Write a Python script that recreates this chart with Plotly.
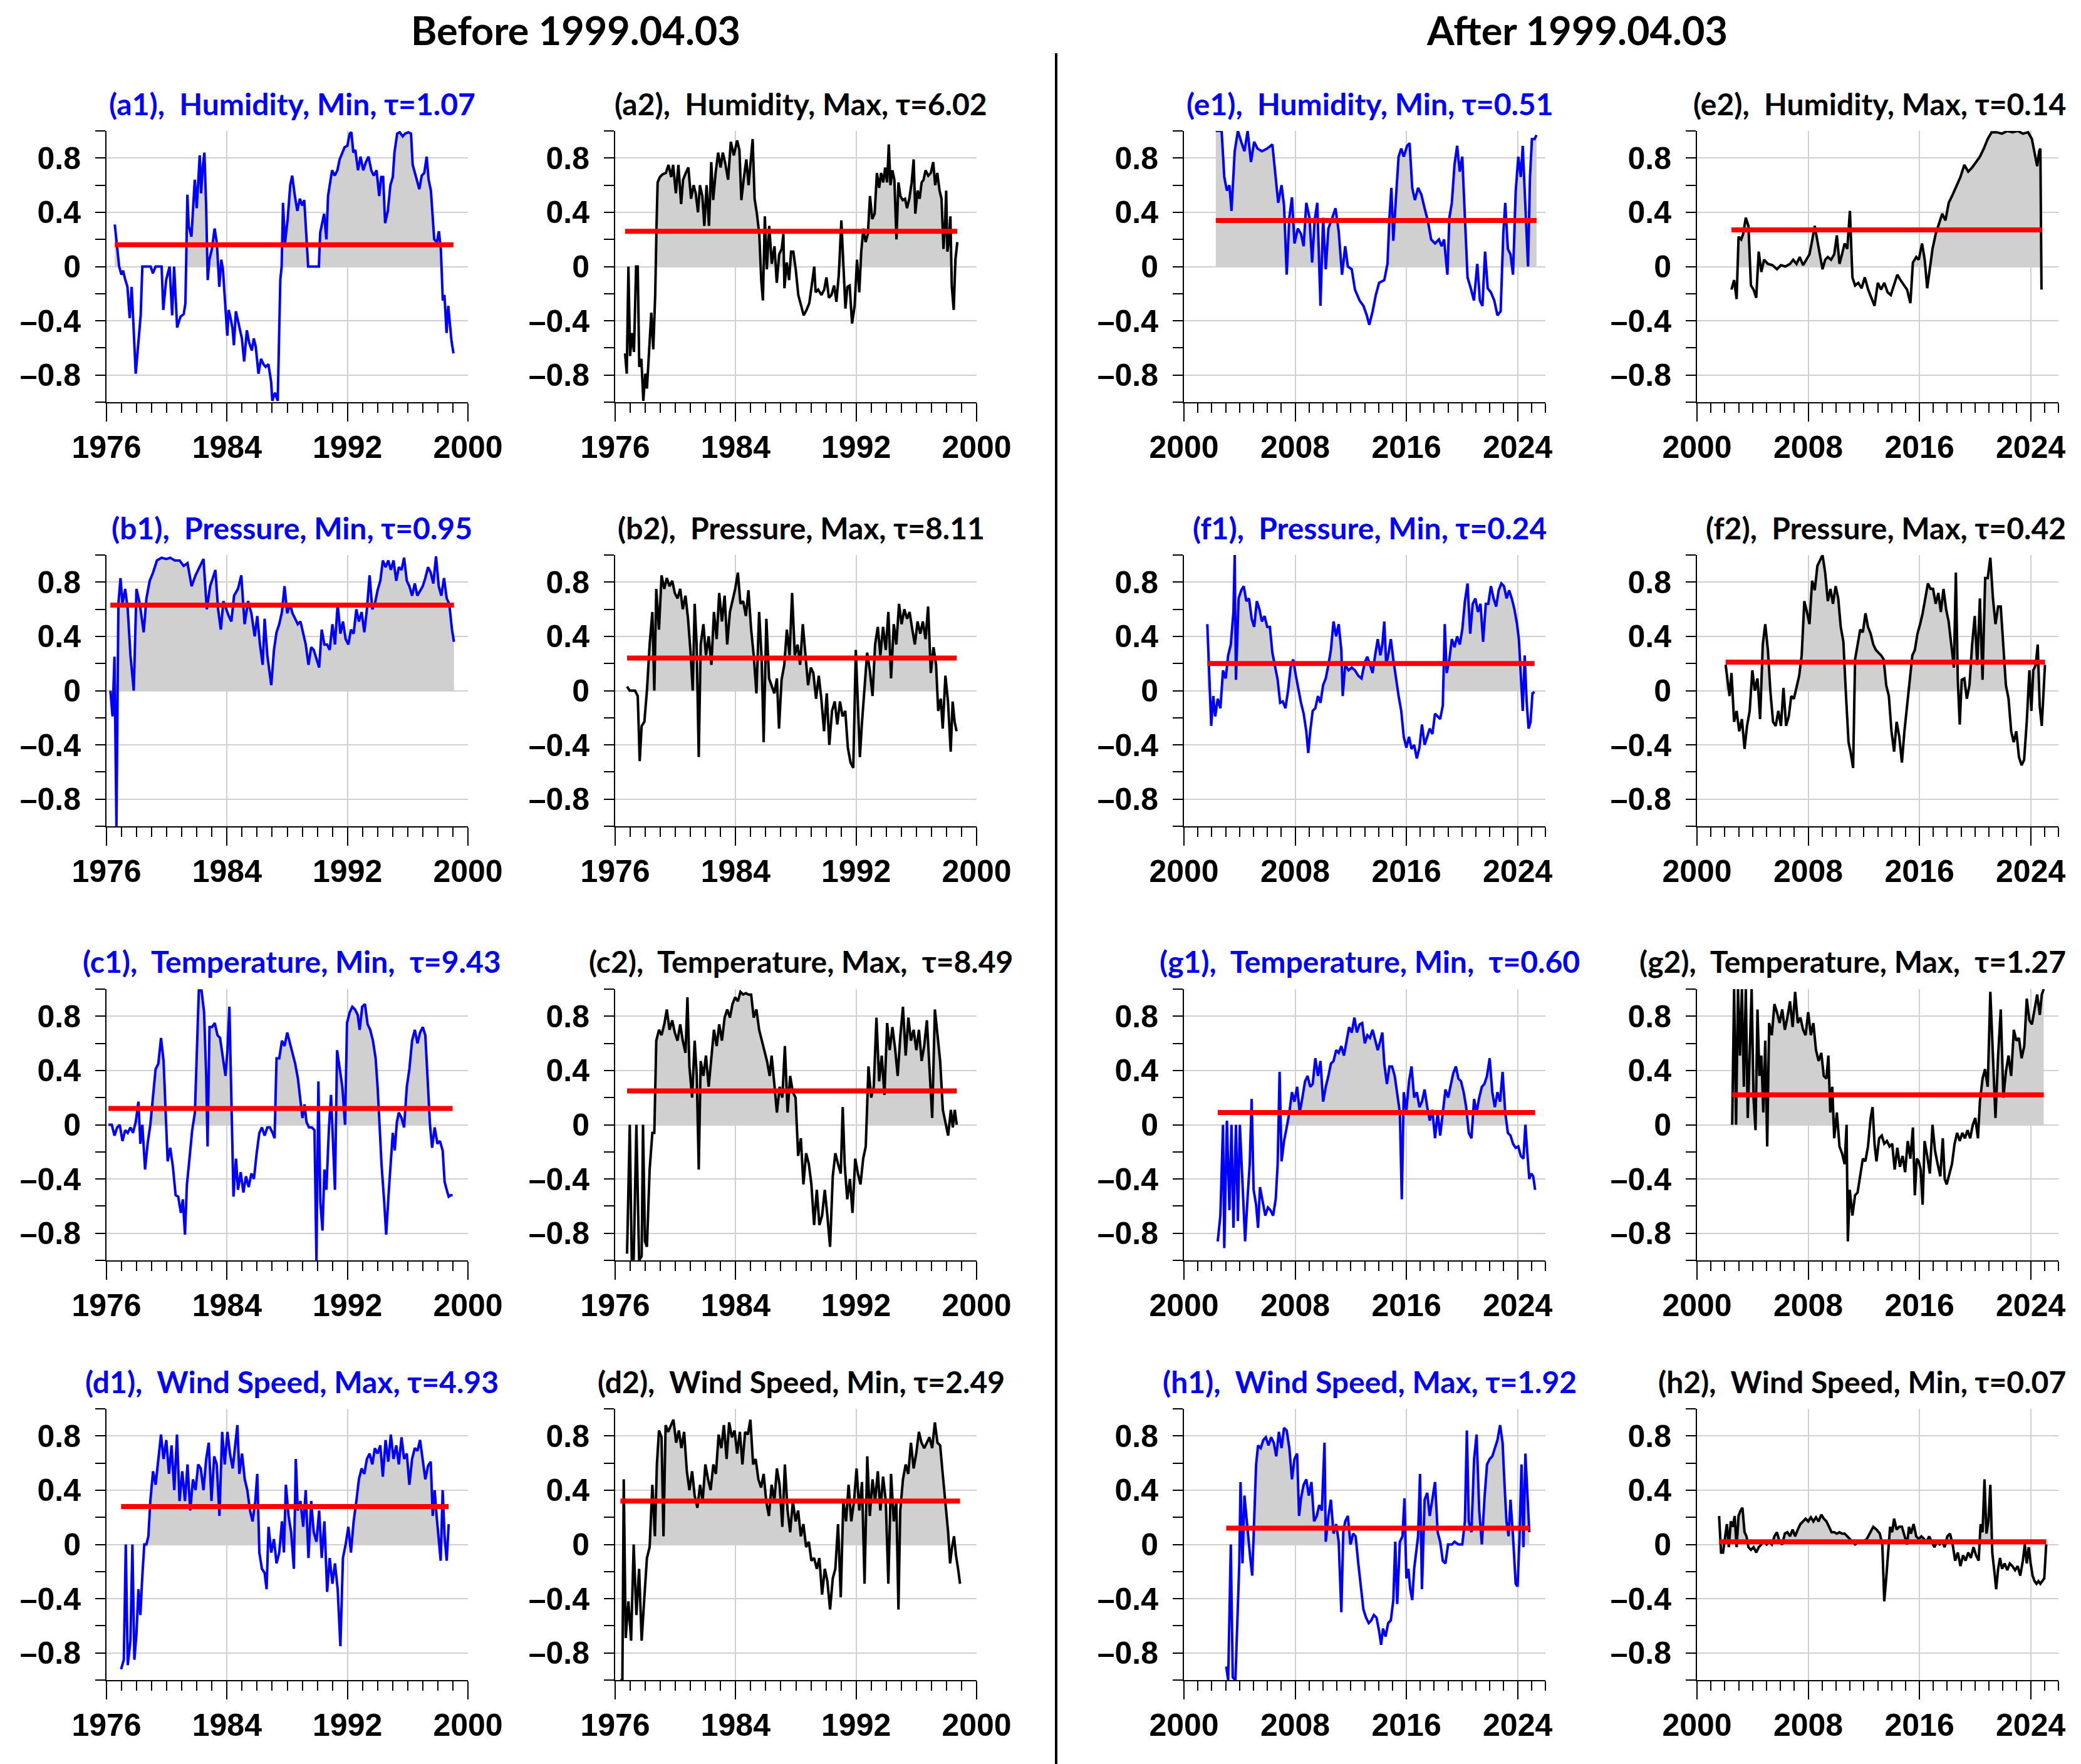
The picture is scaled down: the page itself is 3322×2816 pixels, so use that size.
import numpy as np
import plotly.graph_objects as go
from plotly.subplots import make_subplots

W, H = 3322, 2816

# ---------------- data (year, correlation) ----------------
A1 = [(1976.55,0.31),(1976.66,0.2),(1976.84,0),(1976.99,-0.06),(1977.10,-0.03),(1977.23,-0.09),(1977.39,-0.15),(1977.54,-0.38),(1977.67,-0.15),(1977.76,-0.36),(1977.94,-0.79),(1978.11,-0.57),(1978.27,-0.36),(1978.38,0),(1978.93,0),(1979.08,-0.05),(1979.26,0),(1979.66,0),(1979.77,-0.32),(1979.96,-0.1),(1980.19,0),(1980.36,-0.36),(1980.49,0),(1980.69,-0.45),(1980.91,-0.37),(1981.13,-0.35),(1981.24,-0.27),(1981.37,0.53),(1981.46,0.3),(1981.64,0.22),(1981.86,0.64),(1981.99,0.43),(1982.12,0.69),(1982.19,0.82),(1982.28,0.54),(1982.39,0.73),(1982.50,0.84),(1982.61,0.47),(1982.72,-0.1),(1982.83,0.05),(1983.00,0.13),(1983.18,0.28),(1983.33,0.17),(1983.49,-0.15),(1983.62,0.05),(1983.73,-0.02),(1983.89,-0.29),(1984.02,-0.51),(1984.11,-0.32),(1984.24,-0.38),(1984.37,-0.46),(1984.46,-0.58),(1984.59,-0.33),(1984.77,-0.42),(1984.99,-0.53),(1985.14,-0.7),(1985.32,-0.47),(1985.47,-0.56),(1985.65,-0.62),(1985.78,-0.53),(1985.91,-0.59),(1986.09,-0.79),(1986.26,-0.68),(1986.42,-0.72),(1986.57,-0.74),(1986.75,-0.72),(1986.93,-0.85),(1987.01,-0.99),(1987.19,-0.93),(1987.37,-0.99),(1987.45,-0.47),(1987.54,-0.1),(1987.63,0),(1987.72,0.47),(1987.85,0.17),(1988.03,0.35),(1988.20,0.6),(1988.33,0.67),(1988.51,0.52),(1988.67,0.41),(1988.84,0.5),(1989.00,0.45),(1989.13,0.49),(1989.26,0.2),(1989.39,0),(1989.94,0),(1990.10,0),(1990.19,0.25),(1990.32,0.32),(1990.45,0.39),(1990.60,0.2),(1990.71,0.52),(1990.85,0.62),(1990.98,0.71),(1991.15,0.67),(1991.33,0.71),(1991.48,0.79),(1991.64,0.84),(1991.81,0.88),(1991.99,0.89),(1992.15,0.98),(1992.26,0.99),(1992.39,0.84),(1992.52,0.86),(1992.70,0.71),(1992.87,0.81),(1993.05,0.71),(1993.22,0.77),(1993.40,0.81),(1993.58,0.71),(1993.75,0.67),(1993.93,0.71),(1994.11,0.52),(1994.24,0.66),(1994.37,0.66),(1994.50,0.32),(1994.68,0.41),(1994.85,0.6),(1995.01,0.66),(1995.12,0.84),(1995.30,0.98),(1995.47,0.99),(1995.67,0.96),(1995.82,0.98),(1996.04,0.99),(1996.22,0.98),(1996.33,0.75),(1996.48,0.69),(1996.66,0.62),(1996.77,0.57),(1996.93,0.67),(1997.10,0.69),(1997.26,0.81),(1997.39,0.64),(1997.54,0.56),(1997.67,0.35),(1997.76,0.2),(1997.94,0.18),(1998.07,0.26),(1998.20,0.13),(1998.33,-0.25),(1998.44,-0.21),(1998.58,-0.49),(1998.69,-0.29),(1998.80,-0.44),(1998.91,-0.55),(1999.04,-0.64)]

A2 = [(1976.66,-0.64),(1976.77,-0.79),(1976.88,0.0),(1976.99,-0.66),(1977.12,-0.49),(1977.25,-0.63),(1977.39,0),(1977.5,0),(1977.6,-0.74),(1977.74,-0.68),(1977.87,-0.99),(1978.0,-0.79),(1978.11,-0.9),(1978.27,-0.59),(1978.4,-0.34),(1978.53,-0.61),(1978.66,-0.21),(1978.75,0.32),(1978.82,0.62),(1978.97,0.66),(1979.15,0.68),(1979.37,0.69),(1979.54,0.75),(1979.72,0.66),(1979.85,0.75),(1980.03,0.54),(1980.2,0.75),(1980.38,0.46),(1980.51,0.64),(1980.69,0.69),(1980.86,0.73),(1981.04,0.5),(1981.21,0.6),(1981.35,0.54),(1981.5,0.4),(1981.63,0.6),(1981.79,0.52),(1981.92,0.3),(1982.07,0.6),(1982.23,0.3),(1982.38,0.77),(1982.51,0.49),(1982.67,0.69),(1982.84,0.84),(1983.0,0.73),(1983.15,0.84),(1983.33,0.75),(1983.5,0.64),(1983.68,0.92),(1983.88,0.82),(1984.1,0.93),(1984.25,0.86),(1984.38,0.49),(1984.53,0.64),(1984.71,0.79),(1984.86,0.6),(1985.02,0.79),(1985.13,0.94),(1985.26,0.5),(1985.41,0.39),(1985.57,0.24),(1985.7,-0.1),(1985.81,-0.25),(1985.94,0.37),(1986.07,-0.02),(1986.23,0.3),(1986.4,0.02),(1986.58,0.15),(1986.73,-0.12),(1986.89,0.09),(1987.06,0.13),(1987.17,0.24),(1987.24,-0.16),(1987.39,0.03),(1987.55,-0.1),(1987.68,0.11),(1987.83,0.11),(1987.99,-0.02),(1988.16,-0.21),(1988.34,-0.29),(1988.52,-0.36),(1988.71,-0.32),(1988.89,-0.27),(1989.04,-0.15),(1989.22,0.0),(1989.31,-0.19),(1989.48,-0.17),(1989.7,-0.21),(1989.88,-0.17),(1990.03,-0.08),(1990.19,-0.23),(1990.36,-0.21),(1990.54,-0.14),(1990.69,-0.26),(1990.85,-0.06),(1990.94,0.15),(1991.02,0.34),(1991.16,0.0),(1991.29,-0.31),(1991.42,-0.15),(1991.57,-0.14),(1991.73,-0.42),(1991.9,-0.29),(1992.06,0.05),(1992.21,-0.19),(1992.34,0.11),(1992.48,0.28),(1992.63,0.18),(1992.78,0.24),(1992.92,0.52),(1993.07,0.35),(1993.23,0.39),(1993.38,0.69),(1993.53,0.58),(1993.66,0.69),(1993.8,0.62),(1993.93,0.73),(1994.06,0.62),(1994.17,0.9),(1994.28,0.6),(1994.41,0.71),(1994.54,0.64),(1994.68,0.2),(1994.81,0.62),(1994.94,0.52),(1995.09,0.49),(1995.25,0.5),(1995.38,0.43),(1995.53,0.5),(1995.69,0.62),(1995.82,0.79),(1995.93,0.39),(1996.08,0.56),(1996.22,0.5),(1996.35,0.62),(1996.48,0.64),(1996.61,0.71),(1996.79,0.67),(1996.96,0.69),(1997.12,0.77),(1997.25,0.6),(1997.39,0.69),(1997.54,0.56),(1997.67,0.5),(1997.8,0.13),(1997.89,0.28),(1997.98,0.56),(1998.06,0.11),(1998.15,0.18),(1998.26,0.37),(1998.35,-0.14),(1998.48,-0.32),(1998.59,0.05),(1998.72,0.18)]

E1 = [(2002.29,1.0),(2002.71,1.0),(2002.9,0.66),(2003.09,0.56),(2003.27,0.6),(2003.42,0.41),(2003.65,0.85),(2003.88,1.0),(2004.12,0.92),(2004.35,0.85),(2004.58,1.0),(2004.82,0.77),(2005.05,0.92),(2005.29,0.87),(2005.61,0.85),(2005.99,0.87),(2006.36,0.9),(2006.55,0.7),(2006.78,0.47),(2007.02,0.6),(2007.2,0.45),(2007.39,-0.06),(2007.58,0.36),(2007.77,0.51),(2007.95,0.17),(2008.19,0.28),(2008.42,0.24),(2008.61,0.15),(2008.8,0.47),(2009.03,0.36),(2009.22,0.03),(2009.4,0.34),(2009.59,0.47),(2009.82,-0.29),(2010.01,0.36),(2010.2,-0.02),(2010.39,0.28),(2010.67,0.36),(2010.9,0.43),(2011.13,0.26),(2011.37,-0.06),(2011.6,0.15),(2011.79,0.0),(2012.07,-0.02),(2012.3,-0.17),(2012.63,-0.25),(2012.91,-0.29),(2013.15,-0.36),(2013.33,-0.43),(2013.57,-0.33),(2013.8,-0.21),(2014.04,-0.12),(2014.41,-0.1),(2014.64,0.02),(2014.78,0.36),(2014.92,0.58),(2015.06,0.19),(2015.25,0.51),(2015.44,0.81),(2015.63,0.87),(2015.81,0.81),(2016.05,0.89),(2016.23,0.91),(2016.42,0.58),(2016.61,0.49),(2016.84,0.58),(2017.08,0.53),(2017.31,0.43),(2017.54,0.34),(2017.78,0.2),(2018.06,0.17),(2018.34,0.2),(2018.53,0.15),(2018.71,0.2),(2018.95,-0.06),(2019.09,0.36),(2019.27,0.47),(2019.46,0.75),(2019.65,0.89),(2019.84,0.7),(2020.02,0.81),(2020.21,0.36),(2020.4,-0.08),(2020.63,-0.16),(2020.86,-0.25),(2021.1,0.02),(2021.29,-0.25),(2021.47,-0.29),(2021.66,0.11),(2021.85,-0.16),(2022.08,-0.19),(2022.32,-0.25),(2022.55,-0.36),(2022.78,-0.33),(2022.97,0.24),(2023.11,0.47),(2023.3,0.13),(2023.49,0.09),(2023.67,-0.06),(2023.86,0.55),(2024.05,0.81),(2024.23,0.66),(2024.37,0.89),(2024.51,0.56),(2024.65,0.28),(2024.75,0.0),(2024.89,0.66),(2025.03,0.94),(2025.22,0.94),(2025.36,0.97)]

E2 = [(2002.48,-0.17),(2002.67,-0.1),(2002.85,-0.24),(2002.99,0.22),(2003.18,0.2),(2003.32,0.24),(2003.51,0.36),(2003.7,0.3),(2003.88,-0.14),(2004.07,-0.17),(2004.26,-0.23),(2004.44,0.11),(2004.63,-0.04),(2004.82,0.05),(2005.1,0.02),(2005.43,0.01),(2005.75,-0.02),(2006.04,0.01),(2006.36,0.0),(2006.69,0.02),(2006.92,0.05),(2007.16,0.02),(2007.39,0.07),(2007.63,0.01),(2007.86,0.05),(2008.09,0.09),(2008.28,0.19),(2008.47,0.3),(2008.66,0.19),(2008.84,0.09),(2009.03,-0.02),(2009.22,0.05),(2009.41,0.07),(2009.64,0.05),(2009.87,0.09),(2010.06,0.23),(2010.25,0.02),(2010.43,0.09),(2010.62,0.17),(2010.81,0.13),(2011.0,0.41),(2011.18,-0.08),(2011.37,-0.14),(2011.6,-0.12),(2011.84,-0.16),(2012.07,-0.08),(2012.31,-0.17),(2012.54,-0.23),(2012.77,-0.29),(2013.01,-0.12),(2013.24,-0.17),(2013.47,-0.12),(2013.71,-0.19),(2013.94,-0.21),(2014.18,-0.14),(2014.41,-0.06),(2014.64,-0.1),(2014.88,-0.14),(2015.11,-0.17),(2015.35,-0.27),(2015.53,0.03),(2015.77,0.07),(2015.95,0.05),(2016.19,0.17),(2016.38,0.05),(2016.56,-0.16),(2016.75,0.0),(2016.94,0.13),(2017.17,0.24),(2017.4,0.32),(2017.64,0.39),(2017.87,0.34),(2018.11,0.47),(2018.39,0.53),(2018.67,0.6),(2018.95,0.66),(2019.23,0.75),(2019.51,0.7),(2019.79,0.73),(2020.07,0.77),(2020.35,0.81),(2020.63,0.87),(2020.91,0.94),(2021.19,0.99),(2021.57,0.99),(2021.94,0.98),(2022.32,1.0),(2022.69,0.99),(2023.07,1.0),(2023.44,0.98),(2023.82,0.99),(2024.09,0.94),(2024.28,0.83),(2024.47,0.74),(2024.61,0.85),(2024.7,0.87),(2024.78,-0.17)]

B1 = [(1976.26,0.0),(1976.4,-0.19),(1976.53,0.25),(1976.66,-1.0),(1976.79,0.64),(1976.93,0.83),(1977.06,0.64),(1977.24,0.75),(1977.41,0.6),(1977.59,0.26),(1977.81,0.0),(1977.99,0.75),(1978.21,0.64),(1978.47,0.43),(1978.65,0.68),(1978.87,0.81),(1979.09,0.87),(1979.35,0.96),(1979.66,0.98),(1979.97,0.97),(1980.23,0.98),(1980.54,0.96),(1980.85,0.96),(1981.12,0.92),(1981.38,0.94),(1981.65,0.77),(1981.91,0.85),(1982.18,0.91),(1982.44,0.97),(1982.66,0.6),(1982.88,0.77),(1983.06,0.83),(1983.23,0.89),(1983.41,0.6),(1983.59,0.45),(1983.76,0.66),(1983.94,0.6),(1984.12,0.55),(1984.29,0.51),(1984.47,0.7),(1984.73,0.75),(1984.95,0.85),(1985.17,0.49),(1985.4,0.66),(1985.62,0.57),(1985.84,0.4),(1986.01,0.55),(1986.19,0.34),(1986.37,0.19),(1986.5,0.53),(1986.68,0.26),(1986.81,0.13),(1986.94,0.04),(1987.12,0.3),(1987.29,0.43),(1987.47,0.49),(1987.65,0.58),(1987.82,0.77),(1988.0,0.57),(1988.18,0.64),(1988.35,0.57),(1988.53,0.53),(1988.7,0.49),(1988.88,0.51),(1989.06,0.42),(1989.23,0.34),(1989.41,0.19),(1989.59,0.32),(1989.76,0.3),(1989.94,0.23),(1990.12,0.17),(1990.29,0.45),(1990.47,0.34),(1990.65,0.34),(1990.82,0.3),(1991.0,0.49),(1991.17,0.34),(1991.35,0.64),(1991.53,0.42),(1991.7,0.51),(1991.88,0.38),(1992.06,0.34),(1992.23,0.45),(1992.41,0.42),(1992.59,0.6),(1992.76,0.51),(1992.94,0.58),(1993.12,0.43),(1993.29,0.6),(1993.47,0.85),(1993.65,0.6),(1993.82,0.64),(1994.0,0.74),(1994.18,0.81),(1994.35,0.96),(1994.53,0.91),(1994.71,0.96),(1994.88,0.89),(1995.06,0.96),(1995.24,0.81),(1995.41,0.91),(1995.59,0.89),(1995.76,0.98),(1995.94,0.81),(1996.11,0.77),(1996.29,0.7),(1996.47,0.79),(1996.64,0.7),(1996.82,0.74),(1997.0,0.77),(1997.17,0.83),(1997.35,0.91),(1997.53,0.87),(1997.7,0.79),(1997.88,0.99),(1998.06,0.77),(1998.23,0.7),(1998.41,0.83),(1998.59,0.68),(1998.76,0.64),(1998.94,0.45),(1999.07,0.36)]

B2 = [(1976.79,0.03),(1976.97,0.0),(1977.32,0.0),(1977.5,-0.04),(1977.63,-0.52),(1977.76,-0.26),(1977.94,-0.23),(1978.11,0.0),(1978.29,0.34),(1978.47,0.58),(1978.6,0.0),(1978.73,0.75),(1978.91,0.45),(1979.08,0.85),(1979.26,0.75),(1979.43,0.83),(1979.61,0.77),(1979.79,0.81),(1979.96,0.72),(1980.14,0.68),(1980.32,0.75),(1980.49,0.6),(1980.67,0.7),(1980.84,0.53),(1981.02,0.26),(1981.15,0.0),(1981.28,0.64),(1981.41,0.34),(1981.55,-0.49),(1981.68,0.34),(1981.86,0.49),(1982.03,0.26),(1982.21,0.4),(1982.39,0.19),(1982.56,0.58),(1982.74,0.38),(1982.91,0.72),(1983.09,0.51),(1983.27,0.7),(1983.44,0.34),(1983.62,0.58),(1983.79,0.66),(1983.97,0.75),(1984.15,0.87),(1984.32,0.64),(1984.5,0.66),(1984.68,0.55),(1984.85,0.74),(1985.03,0.45),(1985.2,0.26),(1985.38,-0.02),(1985.56,0.58),(1985.73,0.23),(1985.86,-0.38),(1986.04,0.53),(1986.22,0.09),(1986.39,0.04),(1986.57,-0.02),(1986.74,0.09),(1986.88,-0.28),(1987.05,0.08),(1987.23,0.19),(1987.4,0.45),(1987.58,0.26),(1987.75,0.72),(1987.93,0.26),(1988.11,0.34),(1988.28,0.19),(1988.46,0.49),(1988.64,0.26),(1988.81,0.04),(1988.99,0.17),(1989.16,0.13),(1989.34,-0.06),(1989.52,0.11),(1989.69,-0.06),(1989.87,-0.3),(1990.05,-0.02),(1990.22,-0.4),(1990.4,-0.15),(1990.58,-0.08),(1990.75,-0.25),(1990.93,-0.08),(1991.1,-0.19),(1991.28,-0.15),(1991.45,-0.42),(1991.63,-0.53),(1991.81,-0.57),(1991.98,0.3),(1992.12,-0.11),(1992.25,-0.49),(1992.38,-0.25),(1992.56,0.0),(1992.73,0.28),(1992.91,0.15),(1993.09,-0.04),(1993.26,0.34),(1993.44,0.47),(1993.61,0.26),(1993.79,0.47),(1993.97,0.3),(1994.14,0.58),(1994.32,0.09),(1994.5,0.49),(1994.67,0.34),(1994.85,0.64),(1995.02,0.49),(1995.2,0.6),(1995.38,0.53),(1995.55,0.58),(1995.73,0.45),(1995.9,0.34),(1996.08,0.51),(1996.26,0.42),(1996.43,0.51),(1996.61,0.38),(1996.78,0.62),(1996.96,0.13),(1997.14,0.32),(1997.31,0.19),(1997.45,-0.15),(1997.62,-0.06),(1997.75,-0.28),(1997.93,0.11),(1998.1,-0.08),(1998.28,-0.45),(1998.41,-0.08),(1998.54,-0.23),(1998.67,-0.3)]

F1 = [(2001.68,0.49),(2001.82,0.08),(2001.96,-0.26),(2002.11,-0.04),(2002.25,-0.19),(2002.43,-0.06),(2002.62,-0.13),(2002.81,0.15),(2003.0,0.09),(2003.18,0.26),(2003.37,0.34),(2003.56,0.58),(2003.65,1.0),(2003.74,0.08),(2003.93,0.68),(2004.12,0.74),(2004.3,0.77),(2004.49,0.66),(2004.68,0.68),(2004.87,0.53),(2005.05,0.47),(2005.24,0.66),(2005.43,0.6),(2005.61,0.51),(2005.8,0.55),(2005.99,0.47),(2006.18,0.47),(2006.36,0.28),(2006.55,0.19),(2006.74,0.08),(2006.92,-0.09),(2007.11,-0.08),(2007.3,-0.13),(2007.49,0.0),(2007.67,0.17),(2007.86,0.23),(2008.05,0.11),(2008.23,0.0),(2008.42,-0.09),(2008.61,-0.17),(2008.8,-0.3),(2008.94,-0.46),(2009.08,-0.3),(2009.26,-0.15),(2009.45,-0.13),(2009.64,-0.04),(2009.82,-0.09),(2010.01,0.04),(2010.2,0.09),(2010.39,0.19),(2010.57,0.3),(2010.76,0.51),(2010.95,0.4),(2011.13,0.49),(2011.32,0.3),(2011.42,-0.04),(2011.6,0.19),(2011.84,0.15),(2012.07,0.17),(2012.3,0.15),(2012.54,0.11),(2012.77,0.09),(2013.01,0.21),(2013.19,0.25),(2013.38,0.19),(2013.57,0.13),(2013.75,0.26),(2013.94,0.38),(2014.13,0.26),(2014.27,0.34),(2014.41,0.51),(2014.55,0.19),(2014.69,0.26),(2014.88,0.38),(2015.06,0.23),(2015.25,0.08),(2015.44,-0.04),(2015.63,-0.15),(2015.81,-0.34),(2016.0,-0.42),(2016.19,-0.34),(2016.37,-0.43),(2016.56,-0.4),(2016.75,-0.5),(2016.94,-0.42),(2017.12,-0.25),(2017.31,-0.4),(2017.5,-0.34),(2017.68,-0.28),(2017.87,-0.32),(2018.06,-0.17),(2018.25,-0.19),(2018.43,-0.21),(2018.62,-0.11),(2018.76,0.49),(2018.9,0.13),(2019.09,0.23),(2019.27,0.38),(2019.46,0.32),(2019.65,0.4),(2019.84,0.34),(2020.02,0.45),(2020.21,0.66),(2020.4,0.79),(2020.59,0.42),(2020.77,0.64),(2020.96,0.68),(2021.15,0.58),(2021.33,0.64),(2021.52,0.36),(2021.71,0.64),(2021.89,0.64),(2022.08,0.77),(2022.27,0.68),(2022.46,0.62),(2022.64,0.74),(2022.83,0.79),(2023.02,0.77),(2023.21,0.68),(2023.39,0.74),(2023.58,0.68),(2023.77,0.6),(2023.96,0.49),(2024.09,0.38),(2024.23,0.08),(2024.37,-0.15),(2024.51,0.26),(2024.65,-0.08),(2024.79,-0.28),(2024.93,-0.23),(2025.07,-0.02),(2025.22,-0.01)]

F2 = [(2002.06,0.19),(2002.2,0.08),(2002.34,-0.04),(2002.48,0.13),(2002.67,-0.23),(2002.85,-0.15),(2003.04,-0.3),(2003.23,-0.21),(2003.42,-0.43),(2003.6,-0.26),(2003.79,-0.15),(2003.98,0.15),(2004.16,0.0),(2004.35,0.09),(2004.54,-0.21),(2004.73,0.34),(2004.91,0.49),(2005.1,0.3),(2005.29,-0.02),(2005.47,-0.23),(2005.66,-0.26),(2005.85,-0.15),(2006.04,-0.26),(2006.22,0.02),(2006.41,-0.26),(2006.6,-0.19),(2006.78,-0.04),(2006.97,-0.06),(2007.16,0.02),(2007.35,0.11),(2007.53,0.26),(2007.72,0.66),(2007.91,0.58),(2008.09,0.49),(2008.28,0.81),(2008.47,0.74),(2008.66,0.92),(2008.85,0.96),(2009.03,1.0),(2009.22,0.87),(2009.41,0.66),(2009.6,0.75),(2009.78,0.64),(2009.97,0.77),(2010.16,0.68),(2010.34,0.47),(2010.53,0.36),(2010.72,-0.04),(2010.9,-0.38),(2011.04,-0.45),(2011.23,-0.57),(2011.37,0.23),(2011.56,0.34),(2011.74,0.45),(2011.93,0.43),(2012.12,0.57),(2012.3,0.47),(2012.49,0.42),(2012.68,0.34),(2012.87,0.3),(2013.05,0.28),(2013.24,0.26),(2013.43,0.23),(2013.61,0.04),(2013.8,-0.04),(2013.99,-0.3),(2014.18,-0.45),(2014.36,-0.23),(2014.55,-0.34),(2014.74,-0.53),(2014.92,-0.3),(2015.11,-0.11),(2015.3,0.11),(2015.49,0.26),(2015.67,0.3),(2015.86,0.42),(2016.05,0.49),(2016.23,0.57),(2016.42,0.68),(2016.61,0.79),(2016.8,0.75),(2016.98,0.75),(2017.17,0.64),(2017.36,0.72),(2017.54,0.58),(2017.73,0.75),(2017.92,0.6),(2018.1,0.51),(2018.29,0.34),(2018.48,0.17),(2018.62,0.87),(2018.76,0.08),(2018.9,-0.25),(2019.04,0.08),(2019.23,0.09),(2019.41,-0.06),(2019.6,0.04),(2019.79,0.34),(2019.98,0.55),(2020.16,0.19),(2020.35,0.68),(2020.54,0.08),(2020.73,0.83),(2020.91,0.83),(2021.1,0.98),(2021.29,0.68),(2021.47,0.49),(2021.66,0.62),(2021.85,0.62),(2022.04,0.3),(2022.22,0.04),(2022.41,-0.06),(2022.6,-0.3),(2022.78,-0.38),(2022.97,-0.3),(2023.16,-0.49),(2023.35,-0.55),(2023.53,-0.51),(2023.72,-0.23),(2023.91,0.15),(2024.05,-0.15),(2024.19,0.15),(2024.37,0.19),(2024.51,0.34),(2024.65,-0.11),(2024.8,-0.26),(2024.94,0.0),(2025.03,0.19)]

C1 = [(1976.13,0.0),(1976.35,0.0),(1976.53,-0.08),(1976.71,-0.02),(1976.88,0.0),(1977.06,-0.12),(1977.24,-0.04),(1977.41,-0.06),(1977.59,-0.02),(1977.76,-0.06),(1977.94,0.02),(1978.12,0.17),(1978.25,-0.14),(1978.38,0.0),(1978.56,-0.33),(1978.73,-0.14),(1978.91,0.0),(1979.09,0.2),(1979.26,0.41),(1979.44,0.45),(1979.62,0.64),(1979.79,0.47),(1979.93,0.02),(1980.06,-0.27),(1980.23,-0.17),(1980.41,-0.31),(1980.59,-0.52),(1980.76,-0.53),(1980.94,-0.65),(1981.07,-0.55),(1981.21,-0.81),(1981.34,-0.44),(1981.51,-0.25),(1981.69,-0.04),(1981.87,0.09),(1982.0,0.62),(1982.13,0.99),(1982.31,0.99),(1982.48,0.83),(1982.62,0.36),(1982.71,-0.16),(1982.84,0.72),(1983.01,0.72),(1983.19,0.75),(1983.37,0.66),(1983.54,0.64),(1983.72,0.49),(1983.9,0.36),(1984.03,0.55),(1984.16,0.87),(1984.29,0.2),(1984.43,-0.53),(1984.6,-0.25),(1984.73,-0.48),(1984.91,-0.35),(1985.09,-0.5),(1985.26,-0.38),(1985.44,-0.46),(1985.62,-0.36),(1985.79,-0.4),(1985.97,-0.21),(1986.15,-0.06),(1986.32,-0.02),(1986.5,-0.08),(1986.68,-0.02),(1986.85,-0.02),(1987.03,-0.06),(1987.16,-0.1),(1987.29,0.49),(1987.47,0.49),(1987.65,0.62),(1987.82,0.58),(1988.0,0.68),(1988.18,0.6),(1988.35,0.53),(1988.53,0.45),(1988.71,0.34),(1988.88,0.17),(1989.01,0.05),(1989.15,0.15),(1989.28,0.02),(1989.45,-0.02),(1989.63,-0.02),(1989.81,-0.04),(1989.94,-1.0),(1990.07,0.32),(1990.2,-0.57),(1990.34,-0.78),(1990.47,-0.33),(1990.6,-0.48),(1990.78,0.0),(1990.91,0.22),(1991.04,-0.14),(1991.17,-0.48),(1991.31,0.55),(1991.48,0.41),(1991.66,0.28),(1991.84,0.0),(1991.97,0.75),(1992.15,0.83),(1992.32,0.87),(1992.5,0.85),(1992.68,0.81),(1992.81,0.7),(1992.98,0.87),(1993.16,0.89),(1993.34,0.74),(1993.51,0.7),(1993.69,0.62),(1993.87,0.49),(1994.0,0.28),(1994.13,0.0),(1994.26,-0.29),(1994.44,-0.57),(1994.57,-0.81),(1994.75,-0.48),(1994.88,-0.23),(1995.01,-0.06),(1995.14,-0.19),(1995.28,0.02),(1995.41,0.09),(1995.59,0.05),(1995.76,-0.02),(1995.94,0.28),(1996.11,0.41),(1996.29,0.62),(1996.47,0.7),(1996.65,0.6),(1996.82,0.68),(1997.0,0.72),(1997.17,0.66),(1997.35,0.32),(1997.48,0.0),(1997.62,-0.17),(1997.79,-0.02),(1997.97,-0.14),(1998.14,-0.12),(1998.32,-0.19),(1998.45,-0.42),(1998.59,-0.48),(1998.72,-0.53),(1998.85,-0.52),(1998.98,-0.52)]

C2 = [(1976.79,-0.95),(1976.97,0.0),(1977.1,-0.99),(1977.23,-0.99),(1977.41,0.0),(1977.59,-1.0),(1977.76,-0.97),(1977.85,0.0),(1977.98,-0.86),(1978.11,-0.9),(1978.29,-0.33),(1978.47,-0.06),(1978.6,-0.06),(1978.73,0.62),(1978.91,0.7),(1979.08,0.66),(1979.26,0.74),(1979.43,0.85),(1979.61,0.7),(1979.79,0.77),(1979.96,0.68),(1980.14,0.62),(1980.32,0.74),(1980.49,0.62),(1980.67,0.53),(1980.8,0.94),(1980.93,0.43),(1981.11,0.2),(1981.28,0.62),(1981.42,0.36),(1981.55,-0.33),(1981.68,0.47),(1981.86,0.36),(1982.03,0.51),(1982.21,0.28),(1982.39,0.51),(1982.56,0.7),(1982.74,0.58),(1982.91,0.74),(1983.09,0.62),(1983.27,0.79),(1983.44,0.85),(1983.62,0.79),(1983.79,0.89),(1983.97,0.94),(1984.15,0.91),(1984.32,0.98),(1984.5,0.96),(1984.68,0.97),(1984.85,0.96),(1985.03,0.96),(1985.2,0.79),(1985.38,0.85),(1985.56,0.7),(1985.73,0.62),(1985.91,0.53),(1986.08,0.47),(1986.26,0.36),(1986.39,0.51),(1986.57,0.3),(1986.74,0.09),(1986.92,0.28),(1987.1,0.2),(1987.27,0.58),(1987.45,0.09),(1987.62,0.36),(1987.8,0.24),(1987.98,0.2),(1988.15,-0.23),(1988.33,-0.1),(1988.5,-0.44),(1988.68,-0.21),(1988.86,-0.29),(1989.03,-0.44),(1989.21,-0.74),(1989.39,-0.48),(1989.56,-0.74),(1989.74,-0.67),(1989.92,-0.48),(1990.09,-0.67),(1990.27,-0.9),(1990.45,-0.38),(1990.62,-0.21),(1990.8,-0.29),(1990.98,-0.36),(1991.11,0.13),(1991.24,-0.29),(1991.41,-0.55),(1991.59,-0.4),(1991.76,-0.65),(1991.94,-0.25),(1992.12,-0.36),(1992.29,-0.44),(1992.47,-0.25),(1992.64,-0.16),(1992.82,0.43),(1993.0,0.2),(1993.17,0.28),(1993.35,0.79),(1993.53,0.32),(1993.7,0.51),(1993.88,0.22),(1994.06,0.75),(1994.23,0.55),(1994.41,0.72),(1994.59,0.56),(1994.76,0.36),(1994.94,0.66),(1995.11,0.87),(1995.29,0.51),(1995.47,0.79),(1995.64,0.62),(1995.82,0.7),(1996.0,0.55),(1996.17,0.7),(1996.35,0.47),(1996.52,0.58),(1996.7,0.77),(1996.88,0.39),(1997.05,0.05),(1997.23,0.85),(1997.41,0.64),(1997.58,0.47),(1997.76,0.11),(1997.94,0.02),(1998.11,-0.08),(1998.29,0.11),(1998.42,-0.02),(1998.55,0.11),(1998.68,0.0)]

G1 = [(2002.43,-0.86),(2002.62,-0.67),(2002.81,0.0),(2002.9,-0.91),(2003.09,0.03),(2003.27,-0.63),(2003.42,0.0),(2003.56,-0.76),(2003.74,0.0),(2003.88,-0.71),(2004.02,0.0),(2004.21,-0.48),(2004.4,-0.86),(2004.58,-0.53),(2004.73,-0.29),(2004.87,0.19),(2005.01,-0.48),(2005.19,-0.59),(2005.33,-0.76),(2005.47,-0.46),(2005.66,-0.57),(2005.85,-0.67),(2006.04,-0.61),(2006.22,-0.63),(2006.41,-0.67),(2006.6,-0.55),(2006.74,-0.29),(2006.88,0.39),(2007.02,-0.27),(2007.2,-0.12),(2007.39,-0.02),(2007.58,0.09),(2007.77,0.24),(2007.95,0.17),(2008.14,0.28),(2008.33,0.09),(2008.52,0.2),(2008.71,0.32),(2008.89,0.36),(2009.08,0.28),(2009.26,0.3),(2009.45,0.49),(2009.64,0.36),(2009.82,0.47),(2010.01,0.17),(2010.2,0.28),(2010.39,0.36),(2010.57,0.45),(2010.76,0.47),(2010.95,0.55),(2011.13,0.53),(2011.32,0.58),(2011.51,0.51),(2011.7,0.62),(2011.88,0.72),(2012.07,0.68),(2012.26,0.79),(2012.44,0.68),(2012.63,0.74),(2012.82,0.75),(2013.01,0.6),(2013.19,0.66),(2013.38,0.64),(2013.57,0.7),(2013.75,0.62),(2013.94,0.55),(2014.13,0.62),(2014.27,0.68),(2014.41,0.45),(2014.6,0.3),(2014.78,0.43),(2014.97,0.43),(2015.16,0.36),(2015.35,0.22),(2015.53,0.09),(2015.67,-0.55),(2015.81,0.24),(2016.0,0.11),(2016.19,0.32),(2016.37,0.43),(2016.56,0.2),(2016.75,0.24),(2016.94,0.13),(2017.12,0.17),(2017.31,0.26),(2017.5,0.13),(2017.68,0.03),(2017.87,0.11),(2018.06,-0.1),(2018.25,0.09),(2018.43,-0.08),(2018.62,0.09),(2018.81,0.26),(2019.0,0.2),(2019.18,0.3),(2019.37,0.38),(2019.56,0.43),(2019.74,0.34),(2019.93,0.32),(2020.12,0.24),(2020.3,0.13),(2020.49,-0.06),(2020.68,-0.1),(2020.87,0.19),(2021.05,0.09),(2021.24,0.2),(2021.43,0.28),(2021.61,0.3),(2021.8,0.36),(2021.99,0.49),(2022.18,0.24),(2022.36,0.13),(2022.55,0.24),(2022.74,0.17),(2022.92,0.39),(2023.11,0.09),(2023.3,-0.06),(2023.49,-0.08),(2023.67,-0.14),(2023.86,-0.17),(2024.05,-0.16),(2024.23,-0.23),(2024.42,-0.25),(2024.56,0.0),(2024.7,-0.21),(2024.84,-0.4),(2024.98,-0.36),(2025.12,-0.38),(2025.26,-0.48)]

G2 = [(2002.53,0.0),(2002.67,1.0),(2002.81,0.0),(2002.95,1.0),(2003.09,0.51),(2003.23,1.0),(2003.37,0.28),(2003.51,1.0),(2003.65,0.05),(2003.79,0.56),(2003.93,1.0),(2004.07,0.19),(2004.21,-0.04),(2004.35,0.85),(2004.49,0.36),(2004.63,0.51),(2004.77,0.09),(2004.91,0.62),(2005.05,-0.16),(2005.19,0.75),(2005.38,0.66),(2005.57,0.89),(2005.75,0.83),(2005.94,0.75),(2006.13,0.85),(2006.32,0.7),(2006.5,0.79),(2006.69,0.91),(2006.88,0.72),(2007.06,0.98),(2007.25,0.75),(2007.44,0.79),(2007.63,0.7),(2007.81,0.66),(2008.0,0.83),(2008.19,0.66),(2008.37,0.75),(2008.56,0.55),(2008.75,0.47),(2008.94,0.53),(2009.12,0.36),(2009.31,0.34),(2009.45,0.51),(2009.59,0.09),(2009.73,0.28),(2009.87,-0.1),(2010.06,0.09),(2010.25,-0.16),(2010.43,-0.21),(2010.62,-0.29),(2010.76,0.0),(2010.85,-0.86),(2010.99,-0.48),(2011.18,-0.67),(2011.37,-0.52),(2011.55,-0.5),(2011.74,-0.38),(2011.93,-0.25),(2012.11,-0.27),(2012.3,-0.16),(2012.49,0.05),(2012.63,0.13),(2012.77,-0.14),(2012.91,-0.27),(2013.1,-0.1),(2013.29,-0.08),(2013.47,-0.14),(2013.66,-0.12),(2013.85,-0.16),(2014.04,-0.14),(2014.22,-0.33),(2014.41,-0.17),(2014.6,-0.31),(2014.79,-0.23),(2014.97,-0.35),(2015.16,-0.12),(2015.35,-0.25),(2015.53,-0.02),(2015.67,-0.52),(2015.81,-0.25),(2015.95,-0.27),(2016.09,-0.33),(2016.23,-0.59),(2016.37,-0.12),(2016.56,-0.23),(2016.75,-0.36),(2016.94,0.0),(2017.12,-0.19),(2017.31,-0.29),(2017.5,-0.38),(2017.68,-0.1),(2017.82,-0.4),(2017.96,-0.44),(2018.15,-0.36),(2018.34,-0.29),(2018.53,-0.14),(2018.71,-0.06),(2018.9,-0.12),(2019.09,-0.06),(2019.27,-0.1),(2019.46,-0.04),(2019.65,-0.1),(2019.84,0.0),(2020.02,0.05),(2020.21,-0.1),(2020.35,0.17),(2020.54,0.34),(2020.72,0.41),(2020.91,0.28),(2021.1,0.98),(2021.29,0.47),(2021.47,0.05),(2021.66,0.51),(2021.85,0.85),(2022.04,0.2),(2022.22,0.39),(2022.41,0.51),(2022.6,0.36),(2022.79,0.7),(2022.97,0.62),(2023.16,0.64),(2023.35,0.49),(2023.54,0.58),(2023.72,0.93),(2023.91,0.77),(2024.09,0.74),(2024.28,0.85),(2024.47,0.96),(2024.66,0.81),(2024.8,0.96),(2024.94,1.0)]

D1 = [(1976.97,-0.92),(1977.15,-0.85),(1977.28,0.0),(1977.41,-0.89),(1977.59,-0.71),(1977.72,0.0),(1977.85,-0.85),(1977.99,-0.66),(1978.12,-0.33),(1978.25,-0.52),(1978.38,-0.23),(1978.51,0.0),(1978.65,0.0),(1978.78,0.06),(1978.91,0.32),(1979.09,0.54),(1979.26,0.44),(1979.44,0.61),(1979.62,0.81),(1979.79,0.63),(1979.97,0.77),(1980.15,0.52),(1980.32,0.73),(1980.5,0.4),(1980.68,0.81),(1980.85,0.32),(1981.03,0.54),(1981.21,0.32),(1981.38,0.59),(1981.56,0.25),(1981.74,0.48),(1981.91,0.4),(1982.09,0.59),(1982.26,0.56),(1982.44,0.4),(1982.62,0.63),(1982.79,0.75),(1982.97,0.32),(1983.15,0.65),(1983.32,0.59),(1983.5,0.21),(1983.68,0.83),(1983.85,0.59),(1984.03,0.83),(1984.2,0.67),(1984.38,0.56),(1984.56,0.77),(1984.69,0.88),(1984.82,0.52),(1985.0,0.67),(1985.18,0.48),(1985.35,0.4),(1985.53,0.25),(1985.7,0.17),(1985.88,0.32),(1986.01,0.52),(1986.15,-0.06),(1986.32,-0.18),(1986.5,-0.21),(1986.63,-0.33),(1986.76,0.13),(1986.94,-0.06),(1987.12,0.04),(1987.29,-0.14),(1987.47,-0.06),(1987.65,0.17),(1987.78,-0.06),(1987.91,0.44),(1988.09,0.21),(1988.26,0.09),(1988.44,-0.18),(1988.57,0.63),(1988.7,0.25),(1988.88,0.32),(1989.06,0.13),(1989.23,0.4),(1989.41,-0.1),(1989.59,0.32),(1989.76,0.09),(1989.94,0.02),(1990.12,0.25),(1990.29,-0.1),(1990.47,0.17),(1990.65,-0.35),(1990.82,-0.1),(1991.0,-0.29),(1991.17,-0.14),(1991.35,-0.33),(1991.53,-0.75),(1991.7,-0.1),(1991.88,0.0),(1992.06,0.13),(1992.23,-0.06),(1992.41,0.17),(1992.59,0.32),(1992.76,0.48),(1992.94,0.56),(1993.12,0.52),(1993.29,0.63),(1993.47,0.67),(1993.65,0.59),(1993.82,0.71),(1994.0,0.67),(1994.18,0.73),(1994.35,0.5),(1994.53,0.77),(1994.71,0.61),(1994.88,0.81),(1995.06,0.63),(1995.24,0.73),(1995.41,0.59),(1995.59,0.79),(1995.76,0.63),(1995.94,0.67),(1996.11,0.44),(1996.29,0.63),(1996.47,0.71),(1996.65,0.69),(1996.82,0.77),(1997.0,0.63),(1997.17,0.48),(1997.35,0.58),(1997.53,0.61),(1997.66,0.21),(1997.79,0.4),(1997.92,0.21),(1998.06,0.06),(1998.19,-0.12),(1998.32,0.4),(1998.45,0.06),(1998.59,-0.12),(1998.72,0.15)]

D2 = [(1976.35,-1.0),(1976.48,-1.0),(1976.57,0.48),(1976.7,-0.69),(1976.88,-0.42),(1977.06,-0.71),(1977.23,0.0),(1977.41,-0.52),(1977.59,-0.18),(1977.76,-0.71),(1977.94,-0.39),(1978.11,-0.1),(1978.29,-0.02),(1978.47,0.44),(1978.64,0.06),(1978.77,0.59),(1978.91,0.84),(1979.08,0.79),(1979.21,0.06),(1979.35,0.88),(1979.52,0.83),(1979.7,0.88),(1979.87,0.92),(1980.05,0.75),(1980.23,0.84),(1980.4,0.71),(1980.58,0.83),(1980.76,0.54),(1980.93,0.4),(1981.11,0.54),(1981.28,0.36),(1981.46,0.27),(1981.64,0.44),(1981.81,0.32),(1981.99,0.59),(1982.17,0.48),(1982.34,0.4),(1982.52,0.59),(1982.69,0.52),(1982.87,0.81),(1983.05,0.71),(1983.22,0.88),(1983.4,0.63),(1983.57,0.9),(1983.75,0.79),(1983.93,0.84),(1984.1,0.67),(1984.28,0.83),(1984.45,0.59),(1984.63,0.83),(1984.81,0.81),(1984.98,0.92),(1985.16,0.59),(1985.33,0.63),(1985.51,0.48),(1985.69,0.42),(1985.86,0.52),(1986.04,0.31),(1986.21,0.21),(1986.39,0.44),(1986.57,0.32),(1986.74,0.56),(1986.92,0.44),(1987.1,0.13),(1987.27,0.59),(1987.45,0.25),(1987.62,0.09),(1987.8,0.32),(1987.98,0.17),(1988.15,0.25),(1988.33,0.06),(1988.5,0.15),(1988.68,-0.02),(1988.86,0.02),(1989.03,-0.12),(1989.21,-0.1),(1989.39,-0.18),(1989.56,-0.1),(1989.74,-0.37),(1989.92,-0.18),(1990.09,-0.27),(1990.27,-0.48),(1990.45,-0.25),(1990.62,-0.18),(1990.8,0.15),(1990.98,-0.39),(1991.15,0.32),(1991.33,0.17),(1991.5,0.44),(1991.68,0.17),(1991.86,0.32),(1992.03,0.56),(1992.21,0.25),(1992.39,0.46),(1992.56,-0.29),(1992.74,0.65),(1992.91,0.21),(1993.09,0.48),(1993.26,0.32),(1993.44,0.54),(1993.61,0.25),(1993.79,0.5),(1993.97,0.32),(1994.14,-0.29),(1994.32,0.52),(1994.5,0.17),(1994.67,0.32),(1994.81,-0.48),(1994.93,0.25),(1995.11,0.48),(1995.29,0.59),(1995.46,0.52),(1995.64,0.75),(1995.82,0.56),(1995.99,0.67),(1996.17,0.83),(1996.34,0.75),(1996.52,0.71),(1996.7,0.75),(1996.87,0.79),(1997.05,0.71),(1997.23,0.9),(1997.4,0.75),(1997.58,0.73),(1997.75,0.52),(1997.93,0.32),(1998.11,0.09),(1998.24,-0.14),(1998.37,-0.02),(1998.5,0.06),(1998.63,-0.08),(1998.77,-0.18),(1998.9,-0.29)]

H1 = [(2003.04,-0.9),(2003.18,-1.0),(2003.37,0.0),(2003.51,-0.98),(2003.7,-1.0),(2003.84,-0.62),(2003.98,-0.14),(2004.07,0.46),(2004.21,-0.14),(2004.35,0.36),(2004.49,0.21),(2004.63,0.02),(2004.77,-0.1),(2004.91,-0.23),(2005.05,0.15),(2005.19,0.59),(2005.33,0.73),(2005.52,0.71),(2005.71,0.77),(2005.89,0.79),(2006.08,0.73),(2006.27,0.79),(2006.46,0.75),(2006.64,0.65),(2006.83,0.83),(2007.02,0.71),(2007.2,0.86),(2007.39,0.84),(2007.58,0.71),(2007.77,0.48),(2007.95,0.63),(2008.14,0.67),(2008.28,0.21),(2008.42,0.34),(2008.61,0.44),(2008.8,0.48),(2008.98,0.36),(2009.17,0.46),(2009.36,0.17),(2009.55,0.21),(2009.73,0.29),(2009.92,0.25),(2010.11,0.75),(2010.2,0.02),(2010.39,0.21),(2010.57,0.33),(2010.76,0.08),(2010.95,0.15),(2011.13,0.02),(2011.32,-0.5),(2011.46,0.09),(2011.6,0.17),(2011.79,0.21),(2011.98,0.0),(2012.17,0.08),(2012.35,0.06),(2012.54,-0.14),(2012.73,-0.33),(2012.91,-0.48),(2013.1,-0.54),(2013.29,-0.58),(2013.47,-0.56),(2013.66,-0.52),(2013.85,-0.54),(2014.04,-0.64),(2014.18,-0.74),(2014.32,-0.62),(2014.5,-0.68),(2014.69,-0.58),(2014.88,-0.56),(2015.06,-0.41),(2015.2,0.02),(2015.34,-0.44),(2015.53,0.02),(2015.72,0.06),(2015.86,0.34),(2016.0,-0.25),(2016.14,-0.18),(2016.28,-0.33),(2016.42,-0.41),(2016.56,-0.18),(2016.7,-0.06),(2016.84,0.06),(2016.98,0.52),(2017.12,-0.33),(2017.31,0.33),(2017.5,0.38),(2017.68,0.21),(2017.87,0.33),(2018.06,0.46),(2018.25,0.09),(2018.43,0.02),(2018.62,-0.12),(2018.81,-0.14),(2019.0,0.0),(2019.28,0.0),(2019.46,0.02),(2019.74,0.0),(2020.02,0.0),(2020.21,0.17),(2020.35,0.84),(2020.49,0.17),(2020.68,0.09),(2020.87,0.63),(2021.05,0.81),(2021.24,0.25),(2021.43,0.0),(2021.61,0.33),(2021.8,0.59),(2021.99,0.63),(2022.18,0.65),(2022.36,0.71),(2022.55,0.77),(2022.74,0.88),(2022.92,0.75),(2023.06,0.44),(2023.2,0.17),(2023.35,0.06),(2023.49,0.33),(2023.67,0.06),(2023.86,-0.29),(2024.0,-0.31),(2024.14,0.06),(2024.28,0.59),(2024.42,-0.02),(2024.56,0.67),(2024.7,0.4),(2024.84,0.09)]

H2 = [(2001.59,0.21),(2001.73,-0.06),(2001.87,-0.06),(2002.01,0.06),(2002.15,0.15),(2002.29,-0.02),(2002.43,0.17),(2002.57,0.13),(2002.71,0.21),(2002.85,-0.02),(2002.99,0.21),(2003.13,0.25),(2003.27,0.27),(2003.42,0.09),(2003.56,0.06),(2003.7,-0.02),(2003.88,-0.04),(2004.07,-0.02),(2004.26,-0.06),(2004.44,-0.02),(2004.63,0.0),(2004.82,0.02),(2005.01,0.0),(2005.19,0.02),(2005.38,0.0),(2005.57,0.06),(2005.75,0.09),(2005.94,0.02),(2006.13,0.0),(2006.32,0.08),(2006.5,0.09),(2006.69,0.06),(2006.88,0.11),(2007.06,0.06),(2007.25,0.11),(2007.44,0.15),(2007.63,0.17),(2007.81,0.19),(2008.0,0.17),(2008.19,0.2),(2008.37,0.17),(2008.56,0.2),(2008.75,0.17),(2008.94,0.22),(2009.12,0.19),(2009.31,0.17),(2009.5,0.13),(2009.68,0.09),(2009.87,0.09),(2010.06,0.08),(2010.25,0.09),(2010.43,0.08),(2010.62,0.08),(2010.81,0.06),(2011.0,0.04),(2011.18,0.02),(2011.37,0.0),(2011.65,0.02),(2011.93,0.02),(2012.21,0.04),(2012.45,0.09),(2012.68,0.13),(2012.91,0.11),(2013.15,0.08),(2013.33,0.0),(2013.47,-0.42),(2013.61,-0.25),(2013.75,-0.04),(2013.89,0.13),(2014.04,0.09),(2014.18,0.19),(2014.36,0.11),(2014.55,0.13),(2014.74,0.13),(2014.92,0.06),(2015.11,0.0),(2015.25,0.13),(2015.39,0.08),(2015.58,0.15),(2015.77,0.06),(2015.95,0.04),(2016.14,0.06),(2016.33,0.04),(2016.51,0.02),(2016.7,0.06),(2016.89,0.02),(2017.08,-0.02),(2017.26,0.02),(2017.45,0.0),(2017.64,0.02),(2017.82,-0.02),(2018.01,0.06),(2018.2,0.08),(2018.39,0.0),(2018.57,-0.12),(2018.76,-0.06),(2018.95,-0.16),(2019.14,-0.08),(2019.32,-0.12),(2019.51,-0.06),(2019.7,-0.1),(2019.89,-0.02),(2020.07,-0.08),(2020.26,-0.12),(2020.4,0.15),(2020.54,0.09),(2020.68,0.48),(2020.82,0.08),(2020.96,0.17),(2021.1,0.44),(2021.24,-0.06),(2021.38,-0.19),(2021.52,-0.33),(2021.66,-0.18),(2021.8,-0.1),(2021.94,-0.18),(2022.13,-0.14),(2022.32,-0.19),(2022.5,-0.14),(2022.69,-0.16),(2022.88,-0.19),(2023.07,-0.16),(2023.25,-0.23),(2023.44,-0.12),(2023.58,0.0),(2023.72,-0.14),(2023.86,-0.02),(2024.0,-0.14),(2024.14,-0.23),(2024.28,-0.27),(2024.42,-0.29),(2024.56,-0.27),(2024.7,-0.29),(2024.84,-0.27),(2024.98,-0.25),(2025.12,0.0)]

# panel order: row by row, 4 columns (a,a,e,e / b,b,f,f / c,c,g,g / d,d,h,h)
SERIES = [A1, A2, E1, E2, B1, B2, F1, F2, C1, C2, G1, G2, D1, D2, H1, H2]
RED_LEVELS = [0.16, 0.26, 0.34, 0.27, 0.63, 0.24, 0.20, 0.21,
              0.12, 0.25, 0.09, 0.22, 0.28, 0.32, 0.12, 0.02]
TITLES = [
    "(a1),\u00a0 Humidity, Min, \u03c4=1.07", "(a2),\u00a0 Humidity, Max, \u03c4=6.02",
    "(e1),\u00a0 Humidity, Min, \u03c4=0.51", "(e2),\u00a0 Humidity, Max, \u03c4=0.14",
    "(b1),\u00a0 Pressure, Min, \u03c4=0.95", "(b2),\u00a0 Pressure, Max, \u03c4=8.11",
    "(f1),\u00a0 Pressure, Min, \u03c4=0.24", "(f2),\u00a0 Pressure, Max, \u03c4=0.42",
    "(c1),\u00a0 Temperature, Min,\u00a0 \u03c4=9.43", "(c2),\u00a0 Temperature, Max,\u00a0 \u03c4=8.49",
    "(g1),\u00a0 Temperature, Min,\u00a0 \u03c4=0.60", "(g2),\u00a0 Temperature, Max,\u00a0 \u03c4=1.27",
    "(d1),\u00a0 Wind Speed, Max, \u03c4=4.93", "(d2),\u00a0 Wind Speed, Min, \u03c4=2.49",
    "(h1),\u00a0 Wind Speed, Max, \u03c4=1.92", "(h2),\u00a0 Wind Speed, Min, \u03c4=0.07",
]
HEADERS = ["Before 1999.04.03", "After 1999.04.03"]
X_RANGE_BEFORE = [1976, 2000]
X_RANGE_AFTER = [2000, 2026]
Y_TICK_VALS = [-0.8, -0.4, 0, 0.4, 0.8]
Y_TICK_TEXT = ["\u20130.8", "\u20130.4", "0", "0.4", "0.8"]

# ---------------- layout geometry (pixels) ----------------
COL_L = [170, 982, 1890, 2709]
PW = 577
ROW_T = [209, 886, 1579, 2249]
PH = 433
TITLE_RIGHT_LIMIT = 3300          # last-column titles end here, inside the page
BLUE, BLACK, RED = "#0000ff", "#000000", "#ff0000"
FILL = "#d0d0d0"
GRID = "#d0d0d0"
TICKFONT = dict(family="Liberation Sans", size=50, color="black", weight="bold")
TITLEFONT = "Lato"
TITLESIZE = 48

fig = make_subplots(rows=4, cols=4)

for i, pts in enumerate(SERIES):
    r, c = divmod(i, 4)
    xs = [p[0] for p in pts]
    ys = [p[1] for p in pts]
    color = BLUE if c % 2 == 0 else BLACK
    fig.add_trace(go.Scatter(x=xs, y=np.maximum(np.array(ys), 0.0), mode="lines",
                             line=dict(width=0, color=FILL), fill="tozeroy",
                             fillcolor=FILL, hoverinfo="skip"), row=r + 1, col=c + 1)
    fig.add_trace(go.Scatter(x=xs, y=ys, mode="lines",
                             line=dict(color=color, width=4)), row=r + 1, col=c + 1)
    fig.add_trace(go.Scatter(x=[xs[0], xs[-1]], y=[RED_LEVELS[i]] * 2, mode="lines",
                             line=dict(color=RED, width=8)), row=r + 1, col=c + 1)

    xr = X_RANGE_BEFORE if c < 2 else X_RANGE_AFTER
    x0 = COL_L[c]
    y0 = ROW_T[r]
    fig.update_xaxes(row=r + 1, col=c + 1, automargin=False,
                     domain=[x0 / W, (x0 + PW) / W], range=xr,
                     tickmode="linear", tick0=xr[0], dtick=8,
                     ticks="outside", ticklen=29, tickwidth=2, tickcolor="black",
                     showline=True, linecolor="black", linewidth=2,
                     showgrid=True, gridcolor=GRID, gridwidth=2, zeroline=False,
                     tickfont=TICKFONT, ticklabelstandoff=-2,
                     minor=dict(tick0=xr[0], dtick=1, ticks="outside", ticklen=15,
                                tickwidth=2, tickcolor="black", showgrid=False))
    fig.update_yaxes(row=r + 1, col=c + 1, automargin=False,
                     domain=[1 - (y0 + PH) / H, 1 - y0 / H], range=[-1, 1],
                     tickmode="array", tickvals=Y_TICK_VALS, ticktext=Y_TICK_TEXT,
                     ticks="outside", ticklen=16, tickwidth=2, tickcolor="black",
                     showline=True, linecolor="black", linewidth=2,
                     showgrid=True, gridcolor=GRID, gridwidth=2, zeroline=False,
                     tickfont=TICKFONT, ticklabelstandoff=13,
                     minor=dict(tick0=0, dtick=0.2, ticks="outside", ticklen=16,
                                tickwidth=2, tickcolor="black", showgrid=False))
    last_col = (c == 3)
    fig.add_annotation(text=TITLES[i], xref="paper", yref="paper",
                       x=(TITLE_RIGHT_LIMIT if last_col else x0 + PW / 2 + 8) / W,
                       y=1 - (y0 - 44) / H,
                       xanchor="right" if last_col else "center",
                       yanchor="middle", showarrow=False,
                       font=dict(family=TITLEFONT, size=TITLESIZE, color=color, weight="bold"))

for txt, cx in zip(HEADERS, [919, 2517]):
    fig.add_annotation(text=txt, xref="paper", yref="paper", x=cx / W, y=1 - 47 / H,
                       xanchor="center", yanchor="middle", showarrow=False,
                       font=dict(family=TITLEFONT, size=63, color="black", weight="bold"))

fig.add_shape(type="line", xref="paper", yref="paper",
              x0=1686 / W, x1=1686 / W, y0=0, y1=1 - 85 / H,
              line=dict(color="black", width=4))

fig.update_layout(width=W, height=H, margin=dict(l=0, r=0, t=0, b=0, autoexpand=False),
                  paper_bgcolor="white", plot_bgcolor="white", showlegend=False)

fig.write_html("out.html", config={"displayModeBar": False},
               post_script="document.body.style.margin='0px';")
